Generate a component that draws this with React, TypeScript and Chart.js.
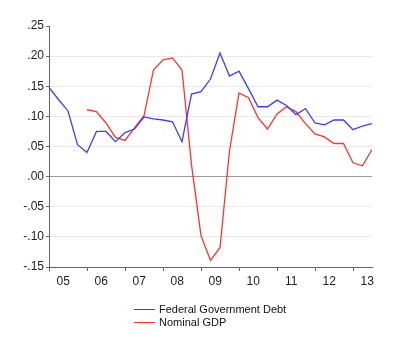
import React, { useEffect, useRef } from "react";
import { Chart, registerables } from "chart.js";

Chart.register(...registerables);

const yearLabels = ["05", "06", "07", "08", "09", "10", "11", "12", "13"];
const seriesNames = ["Federal Government Debt", "Nominal GDP"];

// quarterly, 2005Q1 .. 2013Q3
const federalDebt = [
  0.148, 0.128, 0.109, 0.053, 0.040, 0.075, 0.075, 0.058, 0.073, 0.079,
  0.099, 0.096, 0.094, 0.091, 0.058, 0.137, 0.141, 0.162, 0.205, 0.167,
  0.175, 0.146, 0.116, 0.116, 0.127, 0.118, 0.103, 0.113, 0.089, 0.086,
  0.094, 0.094, 0.078, 0.084, 0.088,
];
const nominalGDP: (number | null)[] = [
  null, null, null, null, 0.111, 0.108, 0.089, 0.065, 0.060, 0.081,
  0.101, 0.177, 0.194, 0.197, 0.177, 0.020, -0.098, -0.139, -0.118, 0.043,
  0.139, 0.131, 0.098, 0.079, 0.104, 0.116, 0.108, 0.088, 0.071, 0.066,
  0.055, 0.055, 0.023, 0.018, 0.045,
];

const blue = "rgb(60,60,255)";
const red = "rgb(255,50,50)";
const fontFamily = "'Liberation Sans', Arial, sans-serif";

export default function App() {
  const ref = useRef<HTMLCanvasElement | null>(null);

  useEffect(() => {
    if (!ref.current) return;
    const toPts = (arr: (number | null)[]) => arr.map((v, i) => ({ x: i, y: v }));
    const n = federalDebt.length;
    const chart = new Chart(ref.current, {
      type: "line",
      data: {
        datasets: [
          {
            label: seriesNames[0],
            data: toPts(federalDebt) as any,
            borderColor: blue,
            borderWidth: 1.3,
            pointRadius: 0,
            tension: 0,
          },
          {
            label: seriesNames[1],
            data: toPts(nominalGDP) as any,
            borderColor: red,
            borderWidth: 1.3,
            pointRadius: 0,
            tension: 0,
            spanGaps: false,
          },
        ],
      },
      options: {
        animation: false,
        responsive: false,
        maintainAspectRatio: false,
        layout: { padding: { left: 0, right: 28, top: 26, bottom: 58 } },
        plugins: { legend: { display: false }, tooltip: { enabled: false } },
        scales: {
          x: {
            type: "linear",
            min: 0,
            max: n - 1,
            afterFit: (s: any) => {
              s.height = 30;
            },
            afterBuildTicks: (s: any) => {
              const t: any[] = [];
              yearLabels.forEach((_, i) => {
                t.push({ value: i * 4 });
                t.push({ value: i * 4 + 1.5 });
              });
              s.ticks = t;
            },
            ticks: {
              autoSkip: false,
              maxRotation: 0,
              padding: 3,
              color: "#222",
              font: { family: fontFamily, size: 12 },
              callback: (v: any) => {
                const val = Number(v);
                if (Math.abs(val % 4 - 1.5) < 1e-6) return yearLabels[Math.round((val - 1.5) / 4)];
                return "";
              },
            },
            grid: {
              drawOnChartArea: false,
              tickLength: 4,
              tickColor: (ctx: any) =>
                ctx.tick && Math.abs(ctx.tick.value % 4) < 1e-6 ? "#666" : "rgba(0,0,0,0)",
            },
            border: { display: true, color: "#666", width: 1 },
          },
          y: {
            type: "linear",
            min: -0.15,
            max: 0.25,
            afterFit: (s: any) => {
              s.width = 49;
            },
            ticks: {
              stepSize: 0.05,
              padding: 2,
              color: "#222",
              font: { family: fontFamily, size: 12 },
              callback: (v: any) => {
                const s = Number(v).toFixed(2);
                return s.replace(/^(-?)0\./, "$1.");
              },
            },
            grid: {
              tickLength: 3,
              tickColor: "#666",
              color: (ctx: any) => {
                const v = ctx.tick ? ctx.tick.value : 1;
                if (Math.abs(v) < 1e-9) return "#9a9a9a";
                if (v > 0.249) return "rgba(0,0,0,0)";
                return "#e8e8e8";
              },
            },
            border: { display: true, color: "#666", width: 1 },
          },
        },
      },
    });
    return () => chart.destroy();
  }, []);

  const legendRow = (color: string, text: string) => (
    <div style={{ display: "flex", alignItems: "center", height: 13 }}>
      <div style={{ width: 21, height: 0, borderTop: `1.5px solid ${color}`, marginRight: 4 }} />
      <span>{text}</span>
    </div>
  );

  return (
    <div style={{ position: "absolute", left: 0, top: 0, width: 400, height: 355, background: "#fff" }}>
      <canvas ref={ref} width={400} height={355} style={{ width: 400, height: 355, display: "block" }} />
      <div
        style={{
          position: "absolute",
          left: 134,
          top: 303,
          fontFamily,
          fontSize: 11,
          color: "#111",
          lineHeight: "13px",
        }}
      >
        {legendRow(blue, seriesNames[0])}
        {legendRow(red, seriesNames[1])}
      </div>
    </div>
  );
}
